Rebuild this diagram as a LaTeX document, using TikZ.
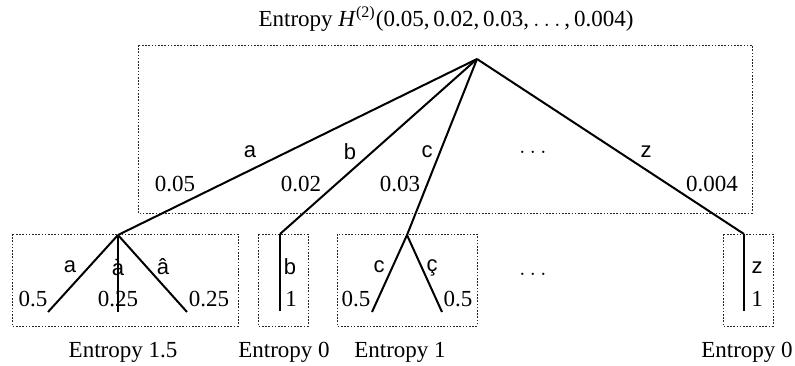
\documentclass[tikz,border=0pt]{standalone}
\usepackage{fontspec}
\setmainfont{Liberation Serif}
\setsansfont{Liberation Sans}
\usetikzlibrary{calc}
\tikzset{
  branch line/.style={line width=1pt,black},
  group box/.style={line width=0.5pt,dash pattern=on 0.8pt off 0.8pt,black!85},
  symbol label/.style={font=\fontsize{11}{13}\selectfont\sffamily,inner sep=0pt},
  prob label/.style={font=\fontsize{11.5}{14}\selectfont,inner sep=0pt},
  entropy label/.style={font=\fontsize{11.5}{14}\selectfont,inner sep=0pt},
}

\begin{document}
\begin{tikzpicture}[x=0.5pt,y=-0.5pt]
\useasboundingbox (0,0) rectangle (795,365);
% title and groups
\node[entropy label] (title) at (446,19) {Entropy \textit{H}\textsuperscript{(2)}(0.05,\,0.02,\,0.03,\,$\ldots$\,,\,0.004)};
\draw[group box] (138,45) rectangle (752,213);
\draw[group box] (12,234) rectangle (238,326);
\draw[group box] (258,234) rectangle (308,326);
\draw[group box] (337,234) rectangle (477,326);
\draw[group box] (723,234) rectangle (773,326);
% tree nodes
\coordinate (root) at (477,59);
\coordinate (na) at (118,235);
\coordinate (nb) at (280,234);
\coordinate (nc) at (407,235);
\coordinate (nz) at (744,234);
\coordinate (la) at (48,312);
\coordinate (lagr) at (118,312);
\coordinate (lacirc) at (187,312);
\coordinate (lb) at (280,311);
\coordinate (lc) at (372,312);
\coordinate (lcced) at (442,312);
\coordinate (lz) at (744,311);
% first level
\draw[branch line] (root) -- (na);
\draw[branch line] (root) -- (nb);
\draw[branch line] (root) -- (nc);
\draw[branch line] (root) -- (nz);
\node[symbol label] (sa) at (250,152) {a};
\node[symbol label] (sb) at (350,152) {b};
\node[symbol label] (sc) at (427,152) {c};
\node[symbol label] (sz) at (646,152) {z};
\node[prob label] (dots1) at (533,152) {$\ldots$};
\node[prob label] (pa) at (175,184) {0.05};
\node[prob label] (pb) at (301,184) {0.02};
\node[prob label] (pc) at (400,184) {0.03};
\node[prob label] (pz) at (712,184) {0.004};
% second level
\draw[branch line] (na) -- (la);
\draw[branch line] (na) -- (lagr);
\draw[branch line] (na) -- (lacirc);
\draw[branch line] (nb) -- (lb);
\draw[branch line] (nc) -- (lc);
\draw[branch line] (nc) -- (lcced);
\draw[branch line] (nz) -- (lz);
\node[symbol label] (sa1) at (70,267) {a};
\node[symbol label] (sa2) at (118,267) {à};
\node[symbol label] (sa3) at (163,267) {â};
\node[prob label] (pa1) at (33,299) {0.5};
\node[prob label] (pa2) at (118,299) {0.25};
\node[prob label] (pa3) at (209,299) {0.25};
\node[symbol label] (sb1) at (290,267) {b};
\node[prob label] (pb1) at (291,299) {1};
\node[symbol label] (sc1) at (379,267) {c};
\node[symbol label] (sc2) at (432,268) {ç};
\node[prob label] (pc1) at (356,299) {0.5};
\node[prob label] (pc2) at (458,299) {0.5};
\node[prob label] (dots2) at (533,274) {$\ldots$};
\node[symbol label] (sz1) at (757,268) {z};
\node[prob label] (pz1) at (757,299) {1};
% entropies
\node[entropy label] (ea) at (123,352) {Entropy 1.5};
\node[entropy label] (eb) at (284,352) {Entropy 0};
\node[entropy label] (ec) at (400,352) {Entropy 1};
\node[entropy label] (ez) at (747,352) {Entropy 0};
\end{tikzpicture}
\end{document}
